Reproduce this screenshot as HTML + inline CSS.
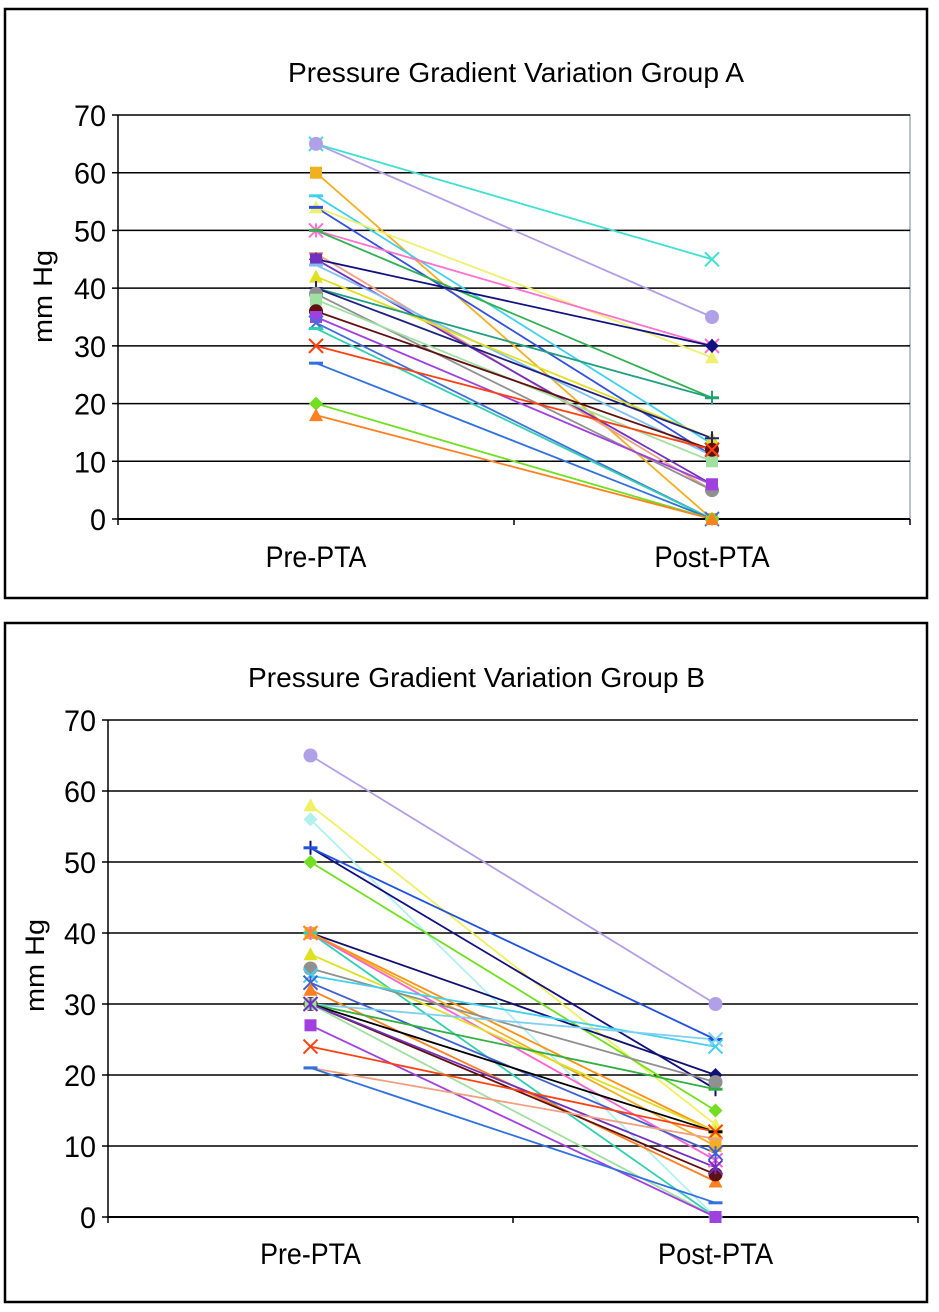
<!DOCTYPE html>
<html><head><meta charset="utf-8">
<style>
html,body{margin:0;padding:0;background:#fff;}
svg{display:block;font-family:"Liberation Sans",sans-serif;}
</style></head>
<body>
<svg id="svg" width="939" height="1312" viewBox="0 0 939 1312" xmlns="http://www.w3.org/2000/svg">
<rect x="5" y="9" width="922" height="589" fill="none" stroke="#000" stroke-width="2.5"/>
<rect x="5" y="623" width="922" height="679" fill="none" stroke="#000" stroke-width="2.5"/>
<text x="288" y="82" font-size="28" textLength="456" lengthAdjust="spacingAndGlyphs">Pressure Gradient Variation Group A</text>
<text x="248" y="687" font-size="28" textLength="457" lengthAdjust="spacingAndGlyphs">Pressure Gradient Variation Group B</text>
<text transform="translate(52,343) rotate(-90)" font-size="27" textLength="93" lengthAdjust="spacingAndGlyphs">mm Hg</text>
<text transform="translate(44,1012) rotate(-90)" font-size="27" textLength="93" lengthAdjust="spacingAndGlyphs">mm Hg</text>
<g id="ga"></g>
<g id="gb"></g>
</svg>
<script>
const categories = ["Pre-PTA","Post-PTA"];
const yTicks = [0,10,20,30,40,50,60,70];
const preA  = [65,65,60,56,54,54,50,50,46,45,45,44,42,40,40,39,38,36,35,34,33,30,27,20,18];
const postA = [45,35,0,13,28,11,30,21,5,30,6,11,14,21,14,5,10,12,6,0,0,12,0,0,0];
const colorsA = ["#40e0d0","#b0a0e8","#f0b020","#40d0f0","#f0f070","#3050e0","#ff70d0","#30b050","#f0a080","#101080","#7030c0","#80c0f0","#e0e020","#20a080","#202080","#909090","#a0e0a0","#601010","#a040e0","#4070e0","#30d0b0","#ff4010","#3070e0","#70e020","#ff8020"];
const markersA = ["x","circle","square","dash","triangle","dash","star","dash","dash","diamond","square","dash","triangle","plus","plus","circle","square","circle","square","x","dash","x","dash","diamond","triangle"];
const preB  = [65,58,56,52,52,50,40,40,40,40,40,37,35,34,33,32,30,30,30,30,30,30,27,24,21,21];
const postB = [30,13,0,18,25,15,20,10,0,8,12,12,19,24,9,5,25,18,12,6,0,7,0,12,11,2];
const colorsB = ["#b0a0e8","#f0f060","#b0f0f0","#101080","#2050e0","#70e020","#101070","#f0b020","#30d0b0","#ff60d0","#ff9010","#e0e020","#909090","#40d0f0","#4060d0","#ff8020","#80d0f0","#30b040","#000000","#601010","#a0e0a0","#7030c0","#a040e0","#ff4010","#f0a080","#3070e0"];
const markersB = ["circle","triangle","diamond","plus","dash","diamond","diamond","square","dash","star","x","triangle","circle","x","star","triangle","x","dash","dash","circle","square","star","square","x","dash","dash"];

const NS="http://www.w3.org/2000/svg";
function mk(tag,attrs,parent){const e=document.createElementNS(NS,tag);for(const k in attrs)e.setAttribute(k,attrs[k]);parent.appendChild(e);return e;}
function marker(g,type,x,y,c){
  const r=7;let e;
  if(type==="circle")e=mk("circle",{cx:x,cy:y,r:r,fill:c},g);
  else if(type==="square")e=mk("rect",{x:x-r+1,y:y-r+1,width:2*r-2,height:2*r-2,fill:c},g);
  else if(type==="triangle")e=mk("polygon",{points:`${x},${y-r} ${x+r},${y+r-1} ${x-r},${y+r-1}`,fill:c},g);
  else if(type==="diamond")e=mk("polygon",{points:`${x},${y-r} ${x+r},${y} ${x},${y+r} ${x-r},${y}`,fill:c},g);
  else if(type==="x")e=mk("path",{d:`M${x-r},${y-r}L${x+r},${y+r}M${x+r},${y-r}L${x-r},${y+r}`,stroke:c,"stroke-width":2,fill:"none"},g);
  else if(type==="plus")e=mk("path",{d:`M${x-r},${y}L${x+r},${y}M${x},${y-r}L${x},${y+r}`,stroke:c,"stroke-width":2,fill:"none"},g);
  else if(type==="star")e=mk("path",{d:`M${x-r},${y-r}L${x+r},${y+r}M${x+r},${y-r}L${x-r},${y+r}M${x},${y-r}L${x},${y+r}`,stroke:c,"stroke-width":2,fill:"none"},g);
  else e=mk("path",{d:`M${x-r},${y}L${x+r},${y}`,stroke:c,"stroke-width":3,fill:"none"},g);
  
  
}
function chart(g,L,R,T,B,pre,post,colors,markers,labY,gridW,border){
  const ys=v=>B-(v/70)*(B-T);
  const xs=i=>L+(R-L)*(i+0.5)/categories.length;
  if(border){const b=mk("rect",{x:L,y:T,width:R-L,height:B-T,fill:"none",stroke:"#708090","stroke-width":1},g);
    
    }
  yTicks.forEach(t=>{
    const y=ys(t);
    if(t>0){const gl=mk("line",{x1:L,x2:R,y1:y,y2:y,stroke:"#000","stroke-width":gridW},g);
      
      }
    const tk=mk("line",{x1:L-6,x2:L,y1:y,y2:y,stroke:"#000","stroke-width":1.5},g);
    
    
    const s=String(t);
    const tx=mk("text",{x:L-12,y:y+11,"text-anchor":"end","font-size":30,textLength:s.length*16,lengthAdjust:"spacingAndGlyphs"},g);
    tx.textContent=s;
    
    
  });
  const ax=mk("line",{x1:L,x2:L,y1:T,y2:B,stroke:"#000","stroke-width":1.5},g);
  
  
  const bx=mk("line",{x1:L,x2:R,y1:B,y2:B,stroke:"#000","stroke-width":2},g);
  
  
  for(let i=0;i<=categories.length;i++){
    const x=L+(R-L)*i/categories.length;
    const t=mk("line",{x1:x,x2:x,y1:B,y2:B+6,stroke:"#000","stroke-width":1.5},g);
    
    
  }
  categories.forEach((c,i)=>{
    const t=mk("text",{x:xs(i),y:labY,"text-anchor":"middle","font-size":30,textLength:c.length*14.4,lengthAdjust:"spacingAndGlyphs"},g);
    t.textContent=c;
    
    
  });
  pre.forEach((v,k)=>{
    const l=mk("line",{x1:xs(0),y1:ys(v),x2:xs(1),y2:ys(post[k]),stroke:colors[k],"stroke-width":1.8},g);
    
    
  });
  pre.forEach((v,k)=>{
    marker(g,markers[k],xs(0),ys(v),colors[k]);
    marker(g,markers[k],xs(1),ys(post[k]),colors[k]);
  });
}
chart(document.getElementById("ga"),118,910,115,519,preA,postA,colorsA,markersA,567,1.5,true);
chart(document.getElementById("gb"),108,918,720,1217,preB,postB,colorsB,markersB,1264,1.5,false);
</script>
</body></html>
